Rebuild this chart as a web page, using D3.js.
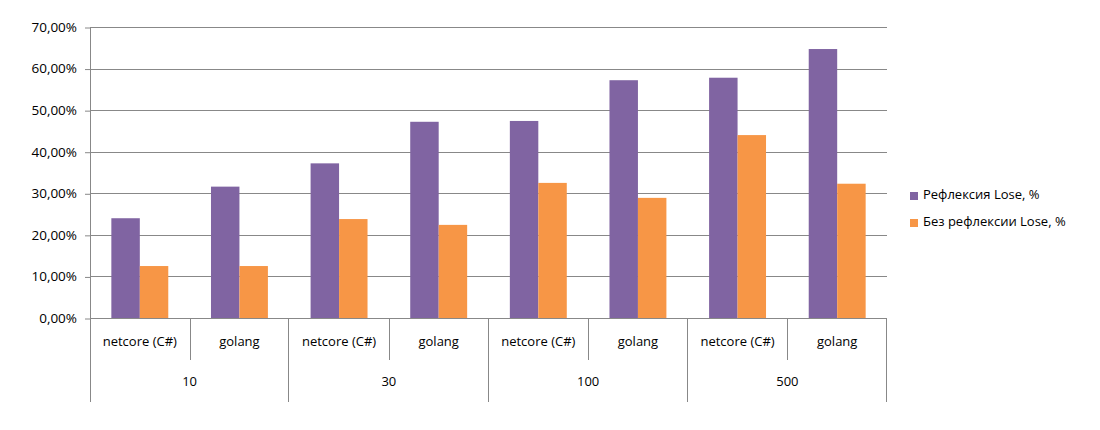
<!DOCTYPE html>
<html>
<head>
<meta charset="utf-8">
<script src="https://cdn.jsdelivr.net/npm/d3@7"></script>
<style>
  body { margin: 0; background: #fff; }
  text { font-family: "Open Sans", "DejaVu Sans", sans-serif; fill: #000; }
</style>
</head>
<body>
<div class="canvas"></div>
<script>
// data
const groups = ['10', '30', '100', '500'];
const langs = ['netcore (C#)', 'golang'];
const seriesNames = ['Рефлексия Lose, %', 'Без рефлексии Lose, %'];
const reflection = [24.0, 31.6, 37.2, 47.2, 47.4, 57.2, 57.8, 64.7];
const noReflection = [12.5, 12.5, 23.8, 22.4, 32.5, 28.9, 44.0, 32.3];
const yTicks = [0, 10, 20, 30, 40, 50, 60, 70];
const colors = ['#8064A2', '#F79646'];

const svg = d3.select('.canvas')
                .append('svg')
                .attr('width', 1100)
                .attr('height', 430);

const margin = {top: 27, left: 90};
const graphWidth = 797;
const graphHeight = 291;
const gridColor = '#888888';

const graph = svg.append('g')
                    .attr('transform', `translate(${margin.left}, ${margin.top})`);

// categories = group x lang
const cats = [];
groups.forEach(g => langs.forEach(l => cats.push({group: g, lang: l, key: g + '|' + l})));
cats.forEach((c, i) => { c.values = [reflection[i], noReflection[i]]; });

const y = d3.scaleLinear()
                .domain([0, 70])
                .range([graphHeight, 0]);

const x = d3.scaleBand()
                .domain(cats.map(c => c.key))
                .range([0, graphWidth]);

const xGroup = d3.scaleBand()
                .domain(groups)
                .range([0, graphWidth]);

// bars: gap width 150% => 2 bars + 1.5 bar of gap per category
const barW = x.bandwidth() / 3.5;
const xSub = d3.scaleBand()
                .domain([0, 1])
                .range([barW * 0.75, barW * 2.75]);

// gridlines
graph.append('g')
        .selectAll('line')
        .data(yTicks.filter(d => d > 0))
        .enter()
        .append('line')
        .attr('x1', 0)
        .attr('x2', graphWidth)
        .attr('y1', d => Math.round(y(d)) + 0.5)
        .attr('y2', d => Math.round(y(d)) + 0.5)
        .attr('stroke', gridColor)
        .attr('stroke-width', 1);

const catG = graph.selectAll('g.cat')
                .data(cats)
                .enter()
                .append('g')
                .attr('class', 'cat')
                .attr('transform', d => `translate(${x(d.key)}, 0)`);

catG.selectAll('rect')
        .data(d => d.values)
        .enter()
        .append('rect')
        .attr('x', (d, i) => xSub(i))
        .attr('width', xSub.bandwidth())
        .attr('y', d => y(d))
        .attr('height', d => graphHeight - y(d))
        .attr('fill', (d, i) => colors[i]);

// y axis
const yAxis = d3.axisLeft(y)
                    .tickValues(yTicks)
                    .tickSize(5)
                    .tickFormat(d => d3.format('.2f')(d).replace('.', ',') + '%');

const yAxisGroup = graph.append('g').call(yAxis);
yAxisGroup.select('.domain').remove();
yAxisGroup.selectAll('line').attr('stroke', gridColor).attr('transform', 'translate(0,0.5)');
yAxisGroup.selectAll('text')
            .attr('x', -13)
            .attr('font-size', 13.5)
            .attr('fill', '#000');

// left axis line, extended through the category area
graph.append('line')
        .attr('x1', 0.5).attr('x2', 0.5)
        .attr('y1', 0).attr('y2', graphHeight + 84)
        .attr('stroke', gridColor);

// bottom axis line
graph.append('line')
        .attr('x1', 0).attr('x2', graphWidth)
        .attr('y1', graphHeight + 0.5).attr('y2', graphHeight + 0.5)
        .attr('stroke', gridColor);

// separators between inner categories
graph.append('g')
        .selectAll('line')
        .data(cats.filter(c => c.lang === langs[1]))
        .enter()
        .append('line')
        .attr('x1', d => Math.round(x(d.key)) + 0.5)
        .attr('x2', d => Math.round(x(d.key)) + 0.5)
        .attr('y1', graphHeight)
        .attr('y2', graphHeight + 42)
        .attr('stroke', gridColor);

// separators between groups
graph.append('g')
        .selectAll('line')
        .data(groups.slice(1).concat(['end']))
        .enter()
        .append('line')
        .attr('x1', d => Math.round(d === 'end' ? graphWidth : xGroup(d)) - 0.5)
        .attr('x2', d => Math.round(d === 'end' ? graphWidth : xGroup(d)) - 0.5)
        .attr('y1', graphHeight)
        .attr('y2', graphHeight + 84)
        .attr('stroke', gridColor);

// inner labels
graph.append('g')
        .selectAll('text')
        .data(cats)
        .enter()
        .append('text')
        .attr('x', d => x(d.key) + x.bandwidth() / 2)
        .attr('y', graphHeight + 25)
        .attr('text-anchor', 'middle')
        .attr('dominant-baseline', 'middle')
        .attr('font-size', 13)
        .text(d => d.lang);

// outer labels
graph.append('g')
        .selectAll('text')
        .data(groups)
        .enter()
        .append('text')
        .attr('x', d => xGroup(d) + xGroup.bandwidth() / 2)
        .attr('y', graphHeight + 65)
        .attr('text-anchor', 'middle')
        .attr('dominant-baseline', 'middle')
        .attr('font-size', 13)
        .text(d => d);

// legend
const legend = svg.append('g')
                    .attr('transform', 'translate(910, 196)');

const legendItems = legend.selectAll('g')
                    .data(seriesNames)
                    .enter()
                    .append('g')
                    .attr('transform', (d, i) => `translate(0, ${i * 27})`);

legendItems.append('rect')
            .attr('x', 0)
            .attr('y', -4)
            .attr('width', 8)
            .attr('height', 8)
            .attr('fill', (d, i) => colors[i]);

legendItems.append('text')
            .attr('x', 13)
            .attr('y', 0)
            .attr('dominant-baseline', 'middle')
            .attr('font-size', 13)
            .text(d => d);
</script>
</body>
</html>
